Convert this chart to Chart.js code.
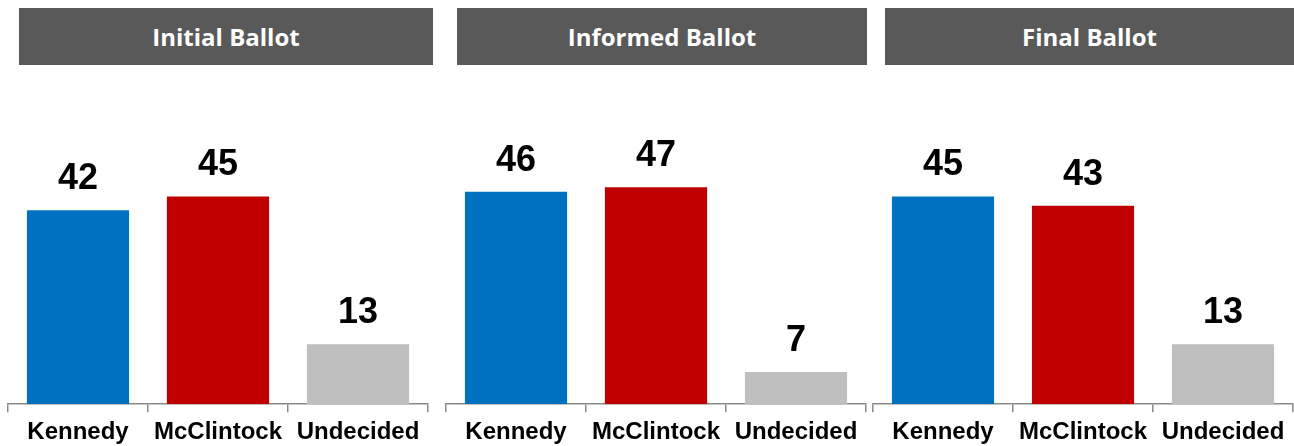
<!DOCTYPE html>
<html><head><meta charset="utf-8">
<script src="https://cdn.jsdelivr.net/npm/chart.js@4"></script>
<style>
body{margin:0;width:1294px;height:446px;overflow:hidden;background:#fff;position:relative;font-family:'Liberation Sans',Arial,sans-serif}
.hdr{position:absolute;top:8px;height:57px;background:#595959;color:#fff;font-family:'Open Sans',sans-serif;font-weight:700;font-size:24px;display:flex;align-items:center;justify-content:center}
.box{position:absolute;top:88px;height:365px;width:422px}
</style></head>
<body>
<script>
const categories = ['Kennedy', 'McClintock', 'Undecided'];
const panelTitles = ['Initial Ballot', 'Informed Ballot', 'Final Ballot'];
const initialValues = [42, 45, 13];
const informedValues = [46, 47, 7];
const finalValues = [45, 43, 13];
const barColors = ['#0070C0', '#C00000', '#BFBFBF'];

const panels = [initialValues, informedValues, finalValues];
const hdrLeft = [19, 457, 885], hdrWidth = [414, 410, 409];
const boxLeft = [7, 445, 872];

const valueLabels = {
  id: 'valueLabels',
  afterDatasetsDraw(chart) {
    const ctx = chart.ctx;
    const meta = chart.getDatasetMeta(0);
    const data = chart.data.datasets[0].data;
    ctx.save();
    ctx.font = 'bold 36px "Liberation Sans", Arial, sans-serif';
    ctx.fillStyle = '#000';
    ctx.textAlign = 'center';
    ctx.textBaseline = 'alphabetic';
    meta.data.forEach((bar, i) => ctx.fillText(String(data[i]), bar.x, bar.y - 21));
    ctx.restore();
  }
};

panels.forEach((vals, p) => {
  const h = document.createElement('div');
  h.className = 'hdr';
  h.style.left = hdrLeft[p] + 'px';
  h.style.width = hdrWidth[p] + 'px';
  h.textContent = panelTitles[p];
  document.body.appendChild(h);

  const box = document.createElement('div');
  box.className = 'box';
  box.style.left = boxLeft[p] + 'px';
  const cv = document.createElement('canvas');
  cv.width = 422; cv.height = 365;
  box.appendChild(cv);
  document.body.appendChild(box);

  new Chart(cv, {
    type: 'bar',
    data: {
      labels: categories,
      datasets: [{ data: vals, backgroundColor: barColors, borderWidth: 0, barPercentage: 0.73, categoryPercentage: 1.0 }]
    },
    options: {
      responsive: false,
      animation: false,
      layout: { padding: { left: 1, right: 1, top: 0, bottom: 0 } },
      plugins: { legend: { display: false }, tooltip: { enabled: false } },
      scales: {
        x: {
          grid: { display: true, drawOnChartArea: false, drawTicks: true, tickLength: 8, offset: true, color: '#898989', lineWidth: 1.5 },
          border: { display: true, color: '#898989', width: 1.5 },
          ticks: { color: '#000', font: { family: '"Liberation Sans", Arial, sans-serif', weight: 'bold', size: 24 }, padding: 6, maxRotation: 0, autoSkip: false }
        },
        y: { display: false, min: 0, max: 68.5 }
      }
    },
    plugins: [valueLabels]
  });
});
</script>
</body></html>
